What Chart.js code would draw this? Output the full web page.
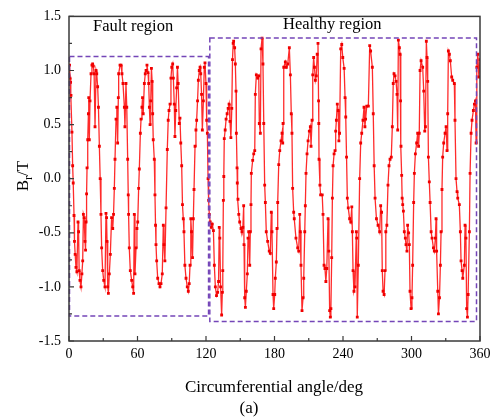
<!DOCTYPE html>
<html>
<head>
<meta charset="utf-8">
<script src="https://cdn.jsdelivr.net/npm/chart.js@4/dist/chart.umd.min.js"></script>
<style>
  html, body { margin: 0; padding: 0; background: #fff; }
  #wrap { width: 496px; height: 419px; position: relative; }
</style>
</head>
<body>
<div id="wrap"><canvas id="c"></canvas></div>
<script>
// radial flux density, [angle deg, Br T]
const faultData = [
  [0.0,0.95],[0.5,1.05],[0.9,0.93],[1.4,0.89],[1.75,0.77],[2.6,0.43],[3.2,0.12],[3.7,-0.04],[4.4,-0.34],[4.8,-0.58],
  [5.4,-0.7],[6.1,-0.82],[6.9,-0.86],[7.9,-0.4],[8.4,-0.49],[8.9,-0.85],[9.6,-0.94],[10.5,-1.0],[11.3,-0.88],[12.0,-0.76],
  [12.6,-0.33],[13.3,-0.36],[14.0,-0.58],[14.5,-0.66],[14.9,-0.4],[15.4,-0.14],[15.8,0.1],[16.4,0.36],[17.0,0.6],[17.3,0.75],
  [17.8,0.36],[18.4,0.72],[19.3,0.97],[20.1,1.05],[20.7,1.06],[21.3,1.04],[22.0,0.97],[22.8,0.48],[23.7,1.0],[24.3,0.97],
  [25.1,0.85],[25.8,0.66],[26.6,0.3],[27.3,0.0],[28.0,-0.33],[28.6,-0.64],[29.5,-0.85],[30.4,-0.94],[31.5,-1.0],[32.4,-0.32],
  [32.9,-0.36],[33.3,-0.58],[33.9,-1.0],[34.5,-1.06],[35.3,-0.88],[36.2,-0.7],[37.3,-0.36],[38.3,-0.46],[39.0,-0.33],[39.7,-0.09],
  [40.3,0.18],[41.2,0.55],[41.9,0.66],[42.6,0.33],[43.2,0.75],[43.5,0.97],[44.7,1.05],[45.6,1.05],[46.4,0.97],[47.3,0.88],
  [48.5,0.66],[49.0,0.48],[49.9,0.88],[50.6,0.66],[51.4,0.18],[51.9,-0.15],[52.2,-0.33],[52.8,-0.64],[53.7,-0.85],[54.9,-0.94],
  [55.8,-1.0],[56.6,-1.06],[57.2,-0.33],[57.8,-0.88],[58.7,-0.64],[59.5,-0.46],[60.2,-0.4],[61.0,-0.09],[61.6,0.09],[62.5,0.42],
  [63.1,0.55],[63.9,0.66],[64.4,0.75],[65.0,0.6],[66.0,0.88],[66.8,0.97],[67.5,1.0],[68.3,1.05],[69.2,0.98],[69.8,0.88],
  [70.4,0.66],[71.0,0.5],[71.6,0.72],[72.2,1.02],[72.8,0.9],[73.3,0.6],[73.8,0.36],[74.7,0.18],[75.3,-0.15],[75.8,-0.43],
  [76.2,-0.61],[76.8,-0.76],[77.7,-0.92],[78.8,-0.97],[79.7,-1.0],[80.6,-0.97],[81.7,-0.88],[82.6,-0.43],[83.2,-0.61],[84.0,-0.76],
  [85.0,-0.27],[86.1,0.27],[86.9,0.54],[87.6,0.63],[88.5,0.69],[89.3,0.93],[90.0,1.03],[90.8,1.06],[91.4,0.93],[92.2,0.69],
  [92.8,0.39],[93.5,0.63],[94.3,0.84],[95.0,1.03],[95.6,0.88],[96.6,0.51],[97.2,0.56],[97.9,0.33],[98.7,0.12],[99.4,-0.24],
  [100.1,-0.37],[100.7,-0.49],[101.5,-0.8],[102.5,-0.92],[103.6,-1.0],[104.5,-1.04],[105.3,-0.97],[106.0,-0.8],[106.7,-0.37],[107.3,-0.49],
  [108.2,-0.73],[108.9,-0.37],[109.5,-0.1],[110.4,0.3],[111.2,0.45],[111.8,0.54],[112.6,0.72],[113.3,0.91],[114.1,1.0],[114.8,1.03],
  [115.4,0.97],[116.1,0.78],[116.8,0.45],[117.7,0.72],[118.5,1.03],[119.1,1.07],[120.0,0.88],[120.6,0.54],[121.2,0.42]
];

const healthyData = [
  [121.8,0.0],[122.3,-0.2],[122.9,-0.33],[123.7,-0.4],[124.6,-0.45],[125.5,-0.42],[126.5,-0.48],[127.3,-0.8],[128.2,-1.0],[129.2,-1.08],
  [130.2,-1.05],[131.0,-0.95],[131.6,-0.45],[132.1,-0.55],[132.8,-1.0],[133.7,-1.26],[134.3,-1.05],[134.7,-0.85],[135.2,-0.2],[135.6,0.02],
  [136.0,0.37],[136.8,0.45],[137.6,0.55],[138.5,0.6],[139.4,0.65],[140.2,0.69],[141.0,0.53],[141.8,0.38],[142.6,0.65],[143.2,1.1],
  [143.8,1.25],[144.2,1.27],[145.1,1.21],[145.7,1.06],[146.3,0.81],[146.6,0.42],[147.2,0.1],[147.4,-0.04],[148.0,-0.19],[148.7,-0.33],
  [149.5,-0.4],[150.7,-0.46],[151.5,-0.49],[152.3,-0.45],[153.0,-0.25],[153.3,-0.61],[153.9,-1.1],[154.5,-1.19],[155.3,-1.04],[156.2,-0.88],
  [156.8,-0.55],[157.4,-0.49],[158.3,-0.8],[158.8,-0.49],[159.4,-0.24],[159.7,0.05],[160.9,0.17],[161.8,0.23],[162.7,0.26],[163.2,0.78],
  [164.1,0.96],[165.3,0.93],[166.2,0.95],[166.7,0.51],[167.6,0.42],[168.2,1.2],[169.1,1.3],[169.9,1.06],[170.6,0.51],[171.4,-0.06],
  [172.0,-0.22],[172.8,-0.49],[174.0,-0.58],[175.4,-0.67],[176.3,-0.69],[177.2,-0.31],[177.8,-0.49],[178.7,-1.07],[179.3,-1.2],[180.2,-1.07],
  [180.7,-0.92],[181.6,-0.77],[182.2,-0.46],[182.8,-0.22],[183.7,0.13],[184.6,0.26],[185.7,0.35],[186.6,0.42],[187.2,0.33],[187.5,0.51],
  [188.1,1.03],[189.5,1.08],[190.4,1.03],[191.6,1.06],[193.0,1.21],[193.9,0.96],[194.7,0.6],[195.3,0.42],[195.9,-0.09],[196.8,-0.31],
  [197.3,-0.37],[198.8,-0.55],[200.3,-0.64],[201.2,-0.67],[202.1,-0.33],[202.6,-0.49],[203.2,-0.8],[204.1,-1.22],[205.0,-1.1],[205.6,-0.92],
  [206.5,-0.49],[207.0,-0.25],[207.6,0.05],[208.5,0.23],[209.4,0.35],[210.5,0.44],[211.4,0.48],[212.0,0.3],[212.9,0.54],[213.5,0.96],
  [214.3,1.12],[215.0,1.03],[215.8,0.91],[216.6,0.95],[217.4,1.15],[218.1,1.25],[218.6,0.72],[218.8,0.51],[219.0,0.18],[219.8,-0.06],
  [220.4,-0.15],[221.8,-0.15],[222.5,-0.33],[223.4,-0.8],[224.2,-0.83],[225.0,-0.95],[225.8,-0.83],[226.9,-0.37],[227.6,-0.67],[228.3,-1.22],
  [228.9,-1.28],[229.4,-1.2],[230.1,-0.73],[230.7,-0.18],[231.3,0.12],[232.2,0.23],[233.0,0.26],[233.6,0.44],[234.2,0.54],[235.0,0.69],
  [235.8,0.63],[236.4,0.35],[237.0,0.42],[238.0,1.2],[238.9,1.24],[239.8,1.12],[241.0,1.02],[241.8,0.75],[242.4,0.57],[243.1,0.2],
  [243.8,-0.18],[244.6,-0.27],[245.8,-0.37],[246.8,-0.4],[247.7,-0.26],[248.2,-0.49],[248.8,-0.85],[249.6,-1.04],[250.5,-1.0],[251.7,-0.49],
  [252.0,-0.55],[252.5,-1.28],[253.4,-0.8],[254.6,0.0],[255.5,0.33],[256.4,0.42],[257.5,0.54],[258.4,0.66],[259.2,0.48],[259.8,0.55],
  [260.8,0.67],[262.2,0.67],[263.4,1.23],[264.2,1.18],[265.7,1.03],[266.5,0.6],[267.3,0.12],[268.1,-0.18],[269.3,-0.37],[270.7,-0.43],
  [272.1,-0.49],[273.0,-0.25],[273.8,-0.31],[274.4,-0.85],[275.1,-1.04],[276.0,-1.07],[276.8,-0.85],[277.5,-0.49],[278.4,-0.43],[279.4,-0.06],
  [280.3,0.12],[281.2,0.18],[282.3,0.2],[283.2,0.48],[284.0,0.88],[284.7,0.97],[285.6,0.95],[286.5,0.9],[287.3,0.78],[287.9,0.45],
  [288.5,1.28],[289.4,1.21],[290.0,1.15],[290.4,0.72],[290.8,0.3],[291.4,0.03],[291.8,-0.18],[292.3,-0.24],[292.9,-0.3],[293.7,-0.49],
  [294.6,-0.55],[295.2,-0.61],[296.0,-0.67],[296.6,-0.43],[297.5,-0.5],[298.1,-0.61],[298.7,-1.04],[299.6,-1.2],[300.4,-1.1],[301.0,-0.8],
  [301.9,-0.22],[302.5,0.05],[303.4,0.23],[304.5,0.33],[305.4,0.42],[306.2,0.3],[306.8,0.42],[307.5,1.0],[308.4,1.09],[309.8,1.03],
  [310.7,0.81],[311.6,0.44],[312.2,0.48],[313.0,1.27],[313.6,1.12],[314.2,0.9],[314.8,0.2],[315.6,-0.03],[316.3,-0.22],[317.2,-0.49],
  [318.0,-0.55],[319.2,-0.64],[320.0,-0.67],[320.9,-0.55],[321.5,-0.37],[322.0,-0.67],[323.0,-1.04],[323.6,-1.25],[324.5,-1.1],[325.3,-0.8],
  [325.9,-0.49],[326.7,-0.1],[327.3,0.2],[328.2,0.33],[329.4,0.42],[330.3,0.48],[331.1,0.26],[331.7,0.6],[332.3,1.18],[333.2,1.15],
  [334.0,1.09],[335.2,0.94],[336.1,0.91],[337.5,0.88],[338.1,0.54],[339.0,0.0],[339.9,-0.12],[340.5,-0.18],[341.9,-0.24],[342.8,-0.49],
  [343.4,-0.76],[344.3,-0.85],[344.9,-0.92],[346.3,-0.8],[346.9,-0.43],[347.7,-0.55],[348.3,-1.2],[349.0,-1.28],[349.6,-1.07],[350.7,-0.49],
  [351.3,0.05],[352.2,0.42],[353.0,0.54],[354.2,0.63],[355.1,0.69],[356.0,0.72],[356.6,0.33],[357.2,1.03],[358.1,1.15],[359.0,0.94],
  [360.0,1.1]
];

const xTicks = [0, 60, 120, 180, 240, 300, 360];
const yTicks = [-1.5, -1.0, -0.5, 0.0, 0.5, 1.0, 1.5];

// dashed region boxes: [x0, x1, y0, y1] in data units
const faultBox = [0, 121.8, -1.27, 1.13];
const healthyBox = [122.9, 356.5, -1.32, 1.3];

const serif = '"Liberation Serif", "Times New Roman", serif';

const decor = {
  id: 'decor',
  afterDatasetsDraw(chart) {
    const { ctx, chartArea: a, scales: { x, y } } = chart;
    ctx.save();
    // region boxes
    ctx.strokeStyle = '#7446b8';
    ctx.lineWidth = 1.5;
    ctx.setLineDash([5, 3]);
    [faultBox, healthyBox].forEach(b => {
      const l = x.getPixelForValue(b[0]), r = x.getPixelForValue(b[1]);
      const t = y.getPixelForValue(b[3]), btm = y.getPixelForValue(b[2]);
      ctx.strokeRect(l + 0.5, t, r - l, btm - t);
    });
    ctx.setLineDash([]);

    // frame
    ctx.strokeStyle = '#3a3a3a';
    ctx.lineWidth = 1.5;
    ctx.strokeRect(a.left, a.top, a.right - a.left, a.bottom - a.top);

    // inward ticks, bottom and left
    ctx.lineWidth = 1.2;
    ctx.beginPath();
    for (let v = 0; v <= 360; v += 30) {
      const px = x.getPixelForValue(v);
      const len = v % 60 === 0 ? 5 : 3;
      ctx.moveTo(px, a.bottom);
      ctx.lineTo(px, a.bottom - len);
    }
    for (let i = 0; i <= 12; i++) {
      const v = -1.5 + i * 0.25;
      const py = y.getPixelForValue(v);
      const len = i % 2 === 0 ? 5 : 3;
      ctx.moveTo(a.left, py);
      ctx.lineTo(a.left + len, py);
    }
    ctx.stroke();

    // texts
    ctx.fillStyle = '#000';
    ctx.font = '16.5px ' + serif;
    ctx.textAlign = 'left';
    ctx.textBaseline = 'alphabetic';
    ctx.fillText('Fault region', 93, 31);
    ctx.fillText('Healthy region', 283, 29);

    ctx.textAlign = 'center';
    ctx.font = '17px ' + serif;
    ctx.fillText('Circumferential angle/deg', 274, 392);
    ctx.fillText('(a)', 249, 413);

    // y title B_r/T rotated
    ctx.translate(28, 176);
    ctx.rotate(-Math.PI / 2);
    ctx.textAlign = 'left';
    const wB = ctx.measureText('B').width;
    ctx.font = '12px ' + serif;
    const wr = ctx.measureText('r').width;
    ctx.font = '17px ' + serif;
    const wT = ctx.measureText('/T').width;
    const start = -(wB + wr + wT) / 2;
    ctx.fillText('B', start, 0);
    ctx.font = '12px ' + serif;
    ctx.fillText('r', start + wB, 4);
    ctx.font = '17px ' + serif;
    ctx.fillText('/T', start + wB + wr, 0);
    ctx.restore();
  }
};

const points = faultData.concat(healthyData).map(([a, b]) => ({ x: a, y: b }));

new Chart(document.getElementById('c'), {
  type: 'line',
  data: {
    datasets: [{
      data: points,
      borderColor: 'rgba(255,20,20,0.9)',
      backgroundColor: '#ff0000',
      borderWidth: 1.3,
      pointStyle: 'rect',
      pointRadius: 2,
      pointBorderWidth: 0,
      pointBackgroundColor: '#f00000',
      tension: 0
    }]
  },
  options: {
    responsive: true,
    maintainAspectRatio: false,
    animation: false,
    events: [],
    layout: { padding: { left: 0, top: 11, right: 16, bottom: 0 } },
    plugins: { legend: { display: false }, tooltip: { enabled: false } },
    scales: {
      x: {
        type: 'linear',
        min: 0, max: 360,
        afterFit: s => { s.height = 78; },
        afterBuildTicks: s => { s.ticks = xTicks.map(v => ({ value: v })); },
        grid: { display: false, drawTicks: false },
        border: { display: false },
        ticks: { color: '#000', padding: 5, maxRotation: 0, font: { family: serif, size: 14 } }
      },
      y: {
        min: -1.5, max: 1.5,
        afterFit: s => { s.width = 69; },
        afterBuildTicks: s => { s.ticks = yTicks.map(v => ({ value: v })); },
        grid: { display: false, drawTicks: false },
        border: { display: false },
        ticks: { color: '#000', padding: 8, font: { family: serif, size: 14 }, callback: v => v.toFixed(1) }
      }
    }
  },
  plugins: [decor]
});
</script>
</body>
</html>
